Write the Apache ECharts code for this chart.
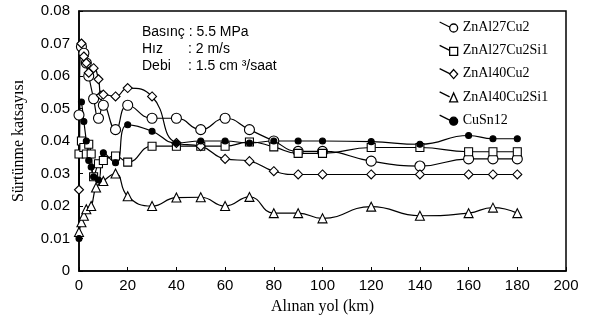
<!DOCTYPE html>
<html><head>
<meta charset="utf-8">
<title>Sürtünme katsayısı</title>
<script src="https://cdn.jsdelivr.net/npm/echarts@6/dist/echarts.min.js"></script>
<style>
html,body{margin:0;padding:0;background:#fff;}
#main{width:591px;height:335px;}
</style>
</head>
<body>
<div id="main"></div>
<script type="text/javascript">
// alınan yol (km) ve sürtünme katsayısı değerleri
var names = ['ZnAl27Cu2', 'ZnAl27Cu2Si1', 'ZnAl40Cu2', 'ZnAl40Cu2Si1', 'CuSn12'];

var km1 = [0, 1, 2, 3, 4, 6, 8, 10, 15, 20, 30, 40, 50, 60, 70, 80, 90, 100, 120, 140, 160, 170, 180];
var znal27 = [0.048, 0.069, 0.067, 0.064, 0.060, 0.053, 0.047, 0.051, 0.0435, 0.051, 0.047, 0.047, 0.0435, 0.047, 0.0435, 0.040, 0.0368, 0.0368, 0.0338, 0.0323, 0.0345, 0.0345, 0.0345];

var km2 = [0, 1, 2, 3, 4, 5, 6, 8, 10, 15, 20, 30, 40, 50, 60, 70, 80, 90, 100, 120, 140, 160, 170, 180];
var znal27si = [0.036, 0.040, 0.038, 0.036, 0.039, 0.036, 0.029, 0.033, 0.034, 0.0354, 0.0335, 0.0384, 0.0384, 0.0384, 0.0384, 0.0397, 0.0382, 0.0362, 0.0362, 0.038, 0.038, 0.0367, 0.0367, 0.0367];

var km3 = [0, 1, 2, 3, 4, 6, 8, 9, 10, 15, 20, 30, 40, 50, 60, 70, 80, 90, 100, 120, 140, 160, 170, 180];
var znal40 = [0.025, 0.070, 0.066, 0.064, 0.061, 0.0624, 0.059, 0.054, 0.0543, 0.0537, 0.0563, 0.0537, 0.0394, 0.0384, 0.0345, 0.0338, 0.0307, 0.0297, 0.0297, 0.0297, 0.0297, 0.0297, 0.0297, 0.0297];

var km4 = [0, 1, 2, 3, 5, 7, 10, 15, 20, 30, 40, 50, 60, 70, 80, 90, 100, 120, 140, 160, 170, 180];
var znal40si = [0.012, 0.015, 0.017, 0.019, 0.020, 0.0257, 0.0277, 0.030, 0.023, 0.020, 0.0226, 0.0227, 0.020, 0.0228, 0.0178, 0.0178, 0.0162, 0.0198, 0.017, 0.0178, 0.0195, 0.0178];

var km5 = [0, 1, 2, 3, 4, 5, 6, 8, 10, 15, 20, 30, 40, 50, 60, 70, 80, 90, 100, 120, 140, 160, 170, 180];
var cusn = [0.010, 0.052, 0.046, 0.040, 0.034, 0.032, 0.029, 0.028, 0.0364, 0.0333, 0.045, 0.043, 0.0394, 0.040, 0.040, 0.0394, 0.040, 0.040, 0.040, 0.0398, 0.039, 0.0417, 0.0407, 0.0407];

var yTicks = [0, 0.01, 0.02, 0.03, 0.04, 0.05, 0.06, 0.07, 0.08];

function pairs(xs, ys) {
    var arr = [];
    for (var i = 0; i < xs.length; i++) {
        arr.push([xs[i], ys[i]]);
    }
    return arr;
}

// legend ikonları: çapraz çizgi + işaret
var icons = [
    'path://M0,0L10,5M10,6a4,4 0 1,0 8,0a4,4 0 1,0 -8,0z',
    'path://M0,0L10,5M10,2L18,2L18,10L10,10Z',
    'path://M0,0L10,5M14,1L18,5.5L14,10L10,5.5Z',
    'path://M0,0L10,5M14,1L18,10L10,10Z',
    'path://M0,0L10,5M10,6a4,4 0 1,0 8,0a4,4 0 1,0 -8,0z'
];
var symbols = ['circle', 'rect', 'diamond', 'triangle', 'circle'];
var sizes = [10, 8, 9, 9, 6];
var fills = ['#fff', '#fff', '#fff', '#fff', '#000'];
var datas = [pairs(km1, znal27), pairs(km2, znal27si), pairs(km3, znal40), pairs(km4, znal40si), pairs(km5, cusn)];

var series = [];
var legendData = [];
for (var i = 0; i < names.length; i++) {
    series.push({
        name: names[i],
        type: 'line',
        smooth: 0.5,
        symbol: symbols[i],
        symbolSize: sizes[i],
        data: datas[i],
        lineStyle: { color: '#000', width: 1.2 },
        itemStyle: { color: fills[i], borderColor: '#000', borderWidth: 1.1 },
        emphasis: { disabled: true }
    });
    legendData.push({
        name: names[i],
        icon: icons[i],
        itemStyle: { color: i == 4 ? '#000' : 'rgba(0,0,0,0)', borderColor: '#000', borderWidth: 1.3 }
    });
}

var myChart = echarts.init(document.getElementById('main'));
var option = {
    animation: false,
    backgroundColor: '#fff',
    grid: { left: 79, right: 25, top: 11, bottom: 64, show: true, borderColor: '#000', borderWidth: 1.5 },
    legend: {
        orient: 'vertical',
        left: 434,
        top: 15,
        itemWidth: 18,
        itemHeight: 10,
        itemGap: 9.3,
        data: legendData,
        textStyle: { fontFamily: 'Liberation Serif', fontSize: 14, color: '#000', lineHeight: 14 }
    },
    xAxis: {
        type: 'value',
        min: 0, max: 200, interval: 20,
        name: 'Alınan yol (km)',
        nameLocation: 'middle',
        nameGap: 28,
        nameTextStyle: { fontFamily: 'Liberation Serif', fontSize: 16, color: '#000' },
        axisLine: { lineStyle: { color: '#000', width: 1.5 } },
        axisTick: { inside: true, length: 4, lineStyle: { color: '#000' } },
        axisLabel: { color: '#000', fontFamily: 'Liberation Sans', fontSize: 15, margin: 7 },
        splitLine: { show: false }
    },
    yAxis: {
        type: 'value',
        min: 0, max: 0.08, interval: 0.01,
        name: 'Sürtünme katsayısı',
        nameLocation: 'middle',
        nameGap: 52,
        nameTextStyle: { fontFamily: 'Liberation Serif', fontSize: 16, color: '#000' },
        axisLine: { lineStyle: { color: '#000', width: 1.5 } },
        axisTick: { inside: true, length: 4, lineStyle: { color: '#000' } },
        axisLabel: {
            color: '#000', fontFamily: 'Liberation Sans', fontSize: 15, margin: 9,
            formatter: function (v) {
                for (var k = 0; k < yTicks.length; k++) {
                    if (Math.abs(v - yTicks[k]) < 1e-9) return k == 0 ? '0' : yTicks[k].toFixed(2);
                }
                return '';
            }
        },
        splitLine: { show: false }
    },
    graphic: [
        { type: 'text', left: 142, top: 25, style: { text: 'Basınç : 5.5 MPa', font: '14px "Liberation Sans"', fill: '#000' } },
        { type: 'text', left: 142, top: 42, style: { text: 'Hız', font: '14px "Liberation Sans"', fill: '#000' } },
        { type: 'text', left: 188, top: 42, style: { text: ': 2 m/s', font: '14px "Liberation Sans"', fill: '#000' } },
        { type: 'text', left: 142, top: 59, style: { text: 'Debi', font: '14px "Liberation Sans"', fill: '#000' } },
        { type: 'text', left: 188, top: 59, style: { text: ': 1.5 cm ³/saat', font: '14px "Liberation Sans"', fill: '#000' } }
    ],
    series: series
};
myChart.setOption(option);
</script>
</body>
</html>
